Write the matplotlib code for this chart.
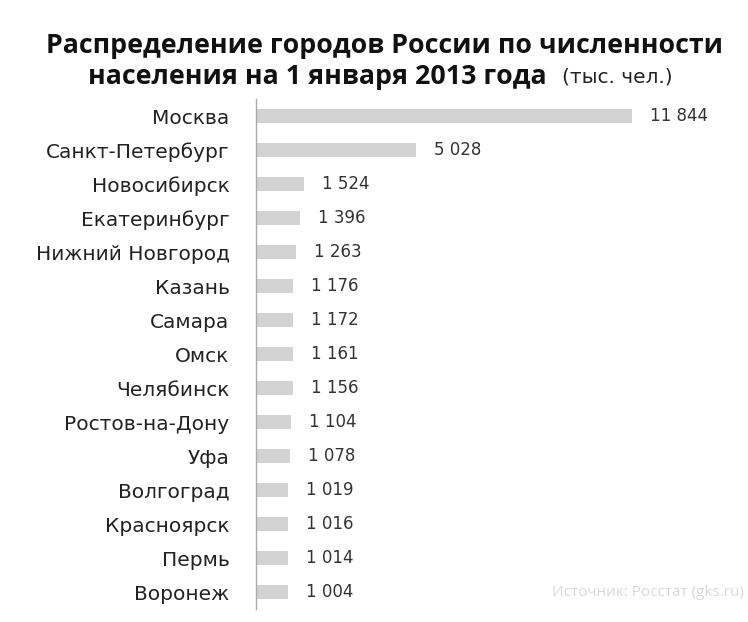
import matplotlib.pyplot as plt

cities = ["Москва", "Санкт-Петербург", "Новосибирск", "Екатеринбург",
          "Нижний Новгород", "Казань", "Самара", "Омск", "Челябинск",
          "Ростов-на-Дону", "Уфа", "Волгоград", "Красноярск", "Пермь", "Воронеж"]
population = [11844, 5028, 1524, 1396, 1263, 1176, 1172, 1161, 1156,
              1104, 1078, 1019, 1016, 1014, 1004]
value_labels = ["11 844", "5 028", "1 524", "1 396", "1 263", "1 176", "1 172",
                "1 161", "1 156", "1 104", "1 078", "1 019", "1 016", "1 014", "1 004"]

plt.rcParams['font.family'] = ['Open Sans', 'DejaVu Sans']

W, H = 748, 622
fig = plt.figure(figsize=(W / 100, H / 100), dpi=100)
ax = fig.add_axes([256 / W, 13 / H, 476 / W, 510 / H])

ypos = list(range(len(cities)))
ax.barh(ypos, population, height=0.42, color="#d3d3d3")
ax.set_ylim(len(cities) - 0.5, -0.5)
ax.set_xlim(0, 15000)

# подписи значений справа от столбцов
for y, v, lab in zip(ypos, population, value_labels):
    ax.annotate(lab, (v, y), xytext=(13, 0), textcoords="offset points",
                va="center", ha="left", fontsize=12, family="DejaVu Sans",
                color="#333333")

ax.set_yticks(ypos)
ax.set_yticklabels(cities, fontsize=14.5, family="DejaVu Sans", color="#222222")
ax.tick_params(axis="y", length=0, pad=19)
ax.set_xticks([])
for s in ["top", "right", "bottom"]:
    ax.spines[s].set_visible(False)
ax.spines["left"].set_color("#aaaaaa")
ax.spines["left"].set_linewidth(1)

fig.text(384 / W, 1 - 46 / H, "Распределение городов России по численности",
         ha="center", va="center", fontsize=19.3, fontweight="bold", color="#111111")
fig.text(88 / W, 1 - 77 / H, "населения на 1 января 2013 года",
         ha="left", va="center", fontsize=19.3, fontweight="bold", color="#111111")
fig.text(562 / W, 1 - 77 / H, "(тыс. чел.)",
         ha="left", va="center", fontsize=14.5, family="DejaVu Sans", color="#222222")

fig.text(552 / W, 1 - 592 / H, "Источник: Росстат (gks.ru)",
         ha="left", va="center", fontsize=11, color="#d8d8d8")

fig.savefig("out.png", dpi=100)
